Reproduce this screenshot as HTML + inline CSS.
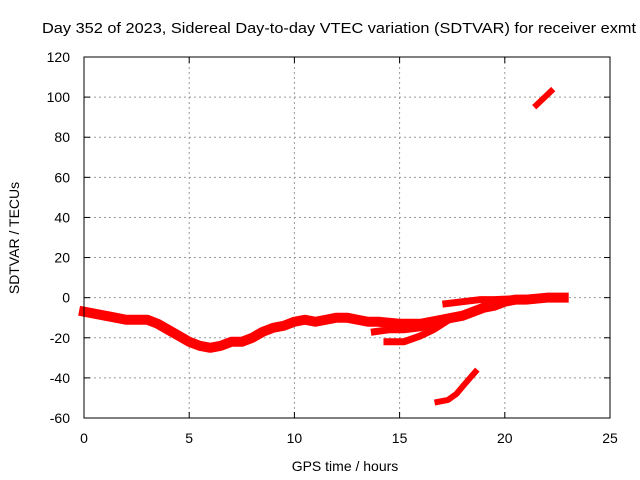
<!DOCTYPE html>
<html><head><meta charset="utf-8"><style>
body{margin:0;background:#fff}
svg{display:block;font-family:"Liberation Sans",sans-serif}
</style></head><body>
<svg id="chart" width="640" height="480" xmlns="http://www.w3.org/2000/svg">
<rect width="640" height="480" fill="#fff"/>
<text x="42" y="33" font-size="15" textLength="594" lengthAdjust="spacingAndGlyphs" fill="#000">Day 352 of 2023, Sidereal Day-to-day VTEC variation (SDTVAR) for receiver exmt</text>
<g id="grid"></g>
<g id="series"></g>
<rect x="84" y="57" width="526" height="361" fill="none" stroke="#000" stroke-width="1"/>
<g id="ticks"></g>
<text x="345" y="471" font-size="14" text-anchor="middle">GPS time / hours</text>
<text transform="translate(19,238) rotate(-90)" font-size="14" text-anchor="middle">SDTVAR / TECUs</text>
</svg>
<script>
const xTicks=[0,5,10,15,20,25];
const yTicks=[-60,-40,-20,0,20,40,60,80,100,120];
const mainX=[0,0.5,1,1.5,2,2.5,3,3.5,4,4.5,5,5.5,6,6.5,7,7.5,8,8.5,9,9.5,10,10.5,11,11.5,12,12.5,13,13.5,14,15,16,16.5,17,17.5,18,18.5,19,19.5,20,20.5,21,22,22.8];
const mainY=[-7,-8,-9,-10,-11,-11,-11,-13,-16,-19,-22,-24,-25,-24,-22,-22,-20,-17,-15,-14,-12,-11,-12,-11,-10,-10,-11,-12,-12,-13,-13,-12,-11,-10,-9,-7,-5,-4,-2,-1,-1,0,0];
const branchAX=[14.4,15.2,16,16.6,17.2];
const branchAY=[-22,-22,-19,-16,-12];
const branchBX=[13.8,14.5,15.2,16,16.6];
const branchBY=[-17,-16,-16,-15,-13];
const branchCX=[17.2,18,18.8,19.5,20.5,21.5,22.5];
const branchCY=[-3,-2,-1,-1,-0.5,0,0];
const lowX=[16.8,17.3,17.7,18.1,18.6];
const lowY=[-52,-51,-48,-43,-37];
const highX=[21.5,22.2];
const highY=[96,103];
const X=v=>84+v*526/25, Y=v=>418-(v+60)*361/180;
const NS="http://www.w3.org/2000/svg";
const grid=document.getElementById('grid'),ticks=document.getElementById('ticks'),ser=document.getElementById('series');
function mk(tag,at,parent){const e=document.createElementNS(NS,tag);for(const k in at)e.setAttribute(k,at[k]);parent.appendChild(e);return e;}
xTicks.forEach(t=>{
 if(t>0&&t<25){const g=mk('line',{x1:X(t),x2:X(t),y1:57,y2:418,stroke:'#999','stroke-dasharray':'2,3'},grid);
 
 }
 const l=mk('text',{x:X(t),y:443,'font-size':14,'text-anchor':'middle'},ticks);l.textContent=t;
 
 
 mk('line',{x1:X(t),x2:X(t),y1:418,y2:412,stroke:'#000'},ticks);
 mk('line',{x1:X(t),x2:X(t),y1:57,y2:63,stroke:'#000'},ticks);
});
yTicks.forEach(t=>{
 if(t>-60&&t<120){const g=mk('line',{x1:84,x2:610,y1:Y(t),y2:Y(t),stroke:'#999','stroke-dasharray':'2,3'},grid);
 
 }
 const l=mk('text',{x:70,y:Y(t)+5,'font-size':14,'text-anchor':'end'},ticks);l.textContent=t;
 
 
 mk('line',{x1:84,x2:90,y1:Y(t),y2:Y(t),stroke:'#000'},ticks);
 mk('line',{x1:604,x2:610,y1:Y(t),y2:Y(t),stroke:'#000'},ticks);
});
function series(xs,ys,name,w){
 const p=mk('polyline',{points:xs.map((x,i)=>X(x)+','+Y(ys[i])).join(' '),fill:'none',stroke:'#f00','stroke-width':w,'stroke-linejoin':'round','stroke-linecap':'square'},ser);
 
 
}
series(mainX,mainY,'sdtvar-main-series',10);
series(branchAX,branchAY,'sdtvar-branch-a',7);
series(branchBX,branchBY,'sdtvar-branch-b',7);
series(branchCX,branchCY,'sdtvar-branch-c',7);
series(lowX,lowY,'sdtvar-low-segment',6);
series(highX,highY,'sdtvar-high-segment',6);
</script>
</body></html>
